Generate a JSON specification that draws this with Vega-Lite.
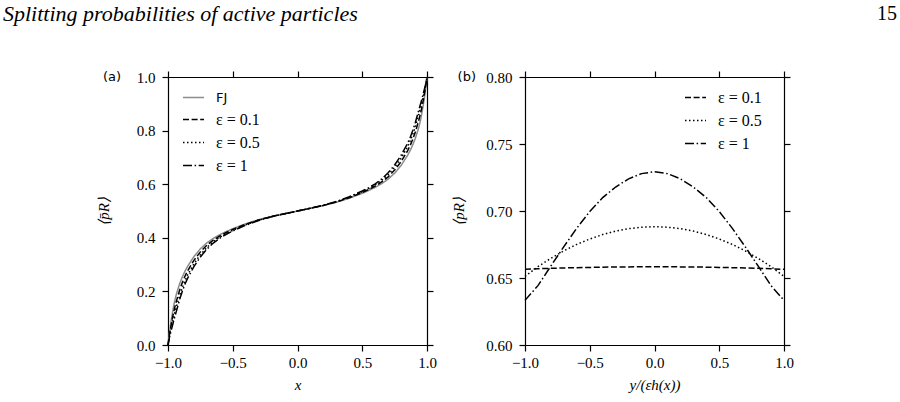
{
  "$schema": "https://vega.github.io/schema/vega-lite/v6.json",
  "background": "white",
  "padding": {"left": 3, "top": 3, "right": 4, "bottom": 4},
  "spacing": 14,
  "resolve": {"scale": {"color": "independent", "strokeDash": "independent"}, "legend": {"color": "independent", "strokeDash": "independent"}},
  "config": {
    "view": {"stroke": null},
    "axis": {
      "domainColor": "black", "tickColor": "black", "domainWidth": 1.2, "tickWidth": 1.2, "tickSize": 6, "labelFlush": false,
      "labelFont": "Liberation Serif", "labelFontSize": 15, "labelColor": "black", "labelPadding": 7,
      "titleFont": "Liberation Serif", "titleFontSize": 15, "titleFontWeight": "normal", "titleFontStyle": "italic", "titleColor": "black",
      "grid": false
    },
    "axisX": {"labelPadding": 4},
    "legend": {
      "title": null, "padding": 0, "symbolType": "stroke", "symbolSize": 441, "symbolStrokeWidth": 1.5,
      "labelFont": "Liberation Serif", "labelFontSize": 16, "labelColor": "black", "labelOffset": 11, "rowPadding": 3
    }
  },
  "datasets": {
    "left": [
      {"s": "FJ", "x": -1, "p": 0}, {"s": "FJ", "x": -0.99, "p": 0.041}, {"s": "FJ", "x": -0.98, "p": 0.077}, {"s": "FJ", "x": -0.97, "p": 0.108}, {"s": "FJ", "x": -0.96, "p": 0.136}, {"s": "FJ", "x": -0.95, "p": 0.1605}, {"s": "FJ", "x": -0.94, "p": 0.181}, {"s": "FJ", "x": -0.93, "p": 0.1986}, {"s": "FJ", "x": -0.91, "p": 0.2286}, {"s": "FJ", "x": -0.89, "p": 0.2533}, {"s": "FJ", "x": -0.87, "p": 0.2743}, {"s": "FJ", "x": -0.85, "p": 0.2925}, {"s": "FJ", "x": -0.8, "p": 0.33}, {"s": "FJ", "x": -0.75, "p": 0.359}, {"s": "FJ", "x": -0.7, "p": 0.381}, {"s": "FJ", "x": -0.65, "p": 0.398}, {"s": "FJ", "x": -0.6, "p": 0.4117}, {"s": "FJ", "x": -0.55, "p": 0.4234}, {"s": "FJ", "x": -0.5, "p": 0.4339}, {"s": "FJ", "x": -0.4, "p": 0.4524}, {"s": "FJ", "x": -0.3, "p": 0.4674}, {"s": "FJ", "x": -0.2, "p": 0.4794}, {"s": "FJ", "x": -0.1, "p": 0.4899}, {"s": "FJ", "x": 0, "p": 0.5},
      {"s": "FJ", "x": 0.1, "p": 0.5101}, {"s": "FJ", "x": 0.2, "p": 0.5206}, {"s": "FJ", "x": 0.3, "p": 0.5326}, {"s": "FJ", "x": 0.4, "p": 0.5476}, {"s": "FJ", "x": 0.5, "p": 0.5661}, {"s": "FJ", "x": 0.55, "p": 0.5766}, {"s": "FJ", "x": 0.6, "p": 0.5883}, {"s": "FJ", "x": 0.65, "p": 0.602}, {"s": "FJ", "x": 0.7, "p": 0.619}, {"s": "FJ", "x": 0.75, "p": 0.641}, {"s": "FJ", "x": 0.8, "p": 0.67}, {"s": "FJ", "x": 0.85, "p": 0.7075}, {"s": "FJ", "x": 0.87, "p": 0.7257}, {"s": "FJ", "x": 0.89, "p": 0.7467}, {"s": "FJ", "x": 0.91, "p": 0.7714}, {"s": "FJ", "x": 0.93, "p": 0.8014}, {"s": "FJ", "x": 0.94, "p": 0.819}, {"s": "FJ", "x": 0.95, "p": 0.8395}, {"s": "FJ", "x": 0.96, "p": 0.864}, {"s": "FJ", "x": 0.97, "p": 0.892}, {"s": "FJ", "x": 0.98, "p": 0.923}, {"s": "FJ", "x": 0.99, "p": 0.959}, {"s": "FJ", "x": 1, "p": 1},

      {"s": "ε = 0.1", "x": -1, "p": 0}, {"s": "ε = 0.1", "x": -0.99, "p": 0.0345}, {"s": "ε = 0.1", "x": -0.98, "p": 0.063}, {"s": "ε = 0.1", "x": -0.97, "p": 0.09}, {"s": "ε = 0.1", "x": -0.96, "p": 0.114}, {"s": "ε = 0.1", "x": -0.95, "p": 0.136}, {"s": "ε = 0.1", "x": -0.94, "p": 0.155}, {"s": "ε = 0.1", "x": -0.93, "p": 0.172}, {"s": "ε = 0.1", "x": -0.91, "p": 0.205}, {"s": "ε = 0.1", "x": -0.89, "p": 0.2325}, {"s": "ε = 0.1", "x": -0.87, "p": 0.2555}, {"s": "ε = 0.1", "x": -0.85, "p": 0.2755}, {"s": "ε = 0.1", "x": -0.8, "p": 0.316}, {"s": "ε = 0.1", "x": -0.75, "p": 0.3475}, {"s": "ε = 0.1", "x": -0.7, "p": 0.3725}, {"s": "ε = 0.1", "x": -0.65, "p": 0.3915}, {"s": "ε = 0.1", "x": -0.6, "p": 0.4068}, {"s": "ε = 0.1", "x": -0.55, "p": 0.4197}, {"s": "ε = 0.1", "x": -0.5, "p": 0.4309}, {"s": "ε = 0.1", "x": -0.4, "p": 0.4505}, {"s": "ε = 0.1", "x": -0.3, "p": 0.4665}, {"s": "ε = 0.1", "x": -0.2, "p": 0.4792}, {"s": "ε = 0.1", "x": -0.1, "p": 0.4898}, {"s": "ε = 0.1", "x": 0, "p": 0.5},
      {"s": "ε = 0.1", "x": 0.1, "p": 0.5102}, {"s": "ε = 0.1", "x": 0.2, "p": 0.5208}, {"s": "ε = 0.1", "x": 0.3, "p": 0.5335}, {"s": "ε = 0.1", "x": 0.4, "p": 0.5495}, {"s": "ε = 0.1", "x": 0.5, "p": 0.5691}, {"s": "ε = 0.1", "x": 0.55, "p": 0.5803}, {"s": "ε = 0.1", "x": 0.6, "p": 0.5932}, {"s": "ε = 0.1", "x": 0.65, "p": 0.6085}, {"s": "ε = 0.1", "x": 0.7, "p": 0.6275}, {"s": "ε = 0.1", "x": 0.75, "p": 0.6525}, {"s": "ε = 0.1", "x": 0.8, "p": 0.684}, {"s": "ε = 0.1", "x": 0.85, "p": 0.7245}, {"s": "ε = 0.1", "x": 0.87, "p": 0.7445}, {"s": "ε = 0.1", "x": 0.89, "p": 0.7675}, {"s": "ε = 0.1", "x": 0.91, "p": 0.795}, {"s": "ε = 0.1", "x": 0.93, "p": 0.828}, {"s": "ε = 0.1", "x": 0.94, "p": 0.845}, {"s": "ε = 0.1", "x": 0.95, "p": 0.864}, {"s": "ε = 0.1", "x": 0.96, "p": 0.886}, {"s": "ε = 0.1", "x": 0.97, "p": 0.91}, {"s": "ε = 0.1", "x": 0.98, "p": 0.937}, {"s": "ε = 0.1", "x": 0.99, "p": 0.9655}, {"s": "ε = 0.1", "x": 1, "p": 1},

      {"s": "ε = 0.5", "x": -1, "p": 0}, {"s": "ε = 0.5", "x": -0.99, "p": 0.0295}, {"s": "ε = 0.5", "x": -0.98, "p": 0.053}, {"s": "ε = 0.5", "x": -0.97, "p": 0.0755}, {"s": "ε = 0.5", "x": -0.96, "p": 0.096}, {"s": "ε = 0.5", "x": -0.95, "p": 0.1155}, {"s": "ε = 0.5", "x": -0.94, "p": 0.134}, {"s": "ε = 0.5", "x": -0.93, "p": 0.151}, {"s": "ε = 0.5", "x": -0.91, "p": 0.185}, {"s": "ε = 0.5", "x": -0.89, "p": 0.214}, {"s": "ε = 0.5", "x": -0.87, "p": 0.2385}, {"s": "ε = 0.5", "x": -0.85, "p": 0.26}, {"s": "ε = 0.5", "x": -0.8, "p": 0.303}, {"s": "ε = 0.5", "x": -0.75, "p": 0.337}, {"s": "ε = 0.5", "x": -0.7, "p": 0.3643}, {"s": "ε = 0.5", "x": -0.65, "p": 0.3855}, {"s": "ε = 0.5", "x": -0.6, "p": 0.4023}, {"s": "ε = 0.5", "x": -0.55, "p": 0.4162}, {"s": "ε = 0.5", "x": -0.5, "p": 0.4279}, {"s": "ε = 0.5", "x": -0.4, "p": 0.4486}, {"s": "ε = 0.5", "x": -0.3, "p": 0.4656}, {"s": "ε = 0.5", "x": -0.2, "p": 0.479}, {"s": "ε = 0.5", "x": -0.1, "p": 0.4897}, {"s": "ε = 0.5", "x": 0, "p": 0.5},
      {"s": "ε = 0.5", "x": 0.1, "p": 0.5103}, {"s": "ε = 0.5", "x": 0.2, "p": 0.521}, {"s": "ε = 0.5", "x": 0.3, "p": 0.5344}, {"s": "ε = 0.5", "x": 0.4, "p": 0.5514}, {"s": "ε = 0.5", "x": 0.5, "p": 0.5721}, {"s": "ε = 0.5", "x": 0.55, "p": 0.5838}, {"s": "ε = 0.5", "x": 0.6, "p": 0.5977}, {"s": "ε = 0.5", "x": 0.65, "p": 0.6145}, {"s": "ε = 0.5", "x": 0.7, "p": 0.6357}, {"s": "ε = 0.5", "x": 0.75, "p": 0.663}, {"s": "ε = 0.5", "x": 0.8, "p": 0.697}, {"s": "ε = 0.5", "x": 0.85, "p": 0.74}, {"s": "ε = 0.5", "x": 0.87, "p": 0.7615}, {"s": "ε = 0.5", "x": 0.89, "p": 0.786}, {"s": "ε = 0.5", "x": 0.91, "p": 0.815}, {"s": "ε = 0.5", "x": 0.93, "p": 0.849}, {"s": "ε = 0.5", "x": 0.94, "p": 0.866}, {"s": "ε = 0.5", "x": 0.95, "p": 0.8845}, {"s": "ε = 0.5", "x": 0.96, "p": 0.904}, {"s": "ε = 0.5", "x": 0.97, "p": 0.9245}, {"s": "ε = 0.5", "x": 0.98, "p": 0.947}, {"s": "ε = 0.5", "x": 0.99, "p": 0.9705}, {"s": "ε = 0.5", "x": 1, "p": 1},

      {"s": "ε = 1", "x": -1, "p": 0}, {"s": "ε = 1", "x": -0.99, "p": 0.0255}, {"s": "ε = 1", "x": -0.98, "p": 0.045}, {"s": "ε = 1", "x": -0.97, "p": 0.0645}, {"s": "ε = 1", "x": -0.96, "p": 0.083}, {"s": "ε = 1", "x": -0.95, "p": 0.1005}, {"s": "ε = 1", "x": -0.94, "p": 0.118}, {"s": "ε = 1", "x": -0.93, "p": 0.135}, {"s": "ε = 1", "x": -0.91, "p": 0.17}, {"s": "ε = 1", "x": -0.89, "p": 0.2}, {"s": "ε = 1", "x": -0.87, "p": 0.2255}, {"s": "ε = 1", "x": -0.85, "p": 0.2475}, {"s": "ε = 1", "x": -0.8, "p": 0.2925}, {"s": "ε = 1", "x": -0.75, "p": 0.3285}, {"s": "ε = 1", "x": -0.7, "p": 0.3575}, {"s": "ε = 1", "x": -0.65, "p": 0.3805}, {"s": "ε = 1", "x": -0.6, "p": 0.3985}, {"s": "ε = 1", "x": -0.55, "p": 0.4132}, {"s": "ε = 1", "x": -0.5, "p": 0.4255}, {"s": "ε = 1", "x": -0.4, "p": 0.447}, {"s": "ε = 1", "x": -0.3, "p": 0.4648}, {"s": "ε = 1", "x": -0.2, "p": 0.4787}, {"s": "ε = 1", "x": -0.1, "p": 0.4897}, {"s": "ε = 1", "x": 0, "p": 0.5},
      {"s": "ε = 1", "x": 0.1, "p": 0.5103}, {"s": "ε = 1", "x": 0.2, "p": 0.5213}, {"s": "ε = 1", "x": 0.3, "p": 0.5352}, {"s": "ε = 1", "x": 0.4, "p": 0.553}, {"s": "ε = 1", "x": 0.5, "p": 0.5745}, {"s": "ε = 1", "x": 0.55, "p": 0.5868}, {"s": "ε = 1", "x": 0.6, "p": 0.6015}, {"s": "ε = 1", "x": 0.65, "p": 0.6195}, {"s": "ε = 1", "x": 0.7, "p": 0.6425}, {"s": "ε = 1", "x": 0.75, "p": 0.6715}, {"s": "ε = 1", "x": 0.8, "p": 0.7075}, {"s": "ε = 1", "x": 0.85, "p": 0.7525}, {"s": "ε = 1", "x": 0.87, "p": 0.7745}, {"s": "ε = 1", "x": 0.89, "p": 0.8}, {"s": "ε = 1", "x": 0.91, "p": 0.83}, {"s": "ε = 1", "x": 0.93, "p": 0.865}, {"s": "ε = 1", "x": 0.94, "p": 0.882}, {"s": "ε = 1", "x": 0.95, "p": 0.8995}, {"s": "ε = 1", "x": 0.96, "p": 0.917}, {"s": "ε = 1", "x": 0.97, "p": 0.9355}, {"s": "ε = 1", "x": 0.98, "p": 0.955}, {"s": "ε = 1", "x": 0.99, "p": 0.9745}, {"s": "ε = 1", "x": 1, "p": 1}
    ],
    "right": [
      {"s": "ε = 0.1", "u": -1, "p": 0.6565}, {"s": "ε = 0.1", "u": -0.9, "p": 0.6569}, {"s": "ε = 0.1", "u": -0.8, "p": 0.6572}, {"s": "ε = 0.1", "u": -0.7, "p": 0.6575}, {"s": "ε = 0.1", "u": -0.6, "p": 0.6577}, {"s": "ε = 0.1", "u": -0.5, "p": 0.6579}, {"s": "ε = 0.1", "u": -0.4, "p": 0.6581}, {"s": "ε = 0.1", "u": -0.3, "p": 0.6582}, {"s": "ε = 0.1", "u": -0.2, "p": 0.6583}, {"s": "ε = 0.1", "u": -0.1, "p": 0.6584}, {"s": "ε = 0.1", "u": 0, "p": 0.6584},
      {"s": "ε = 0.1", "u": 0.1, "p": 0.6584}, {"s": "ε = 0.1", "u": 0.2, "p": 0.6583}, {"s": "ε = 0.1", "u": 0.3, "p": 0.6582}, {"s": "ε = 0.1", "u": 0.4, "p": 0.6581}, {"s": "ε = 0.1", "u": 0.5, "p": 0.6579}, {"s": "ε = 0.1", "u": 0.6, "p": 0.6577}, {"s": "ε = 0.1", "u": 0.7, "p": 0.6575}, {"s": "ε = 0.1", "u": 0.8, "p": 0.6572}, {"s": "ε = 0.1", "u": 0.9, "p": 0.6569}, {"s": "ε = 0.1", "u": 1, "p": 0.6565},
      {"s": "ε = 0.5", "u": -1, "p": 0.6512}, {"s": "ε = 0.5", "u": -0.9, "p": 0.6585}, {"s": "ε = 0.5", "u": -0.8, "p": 0.6647}, {"s": "ε = 0.5", "u": -0.7, "p": 0.6703}, {"s": "ε = 0.5", "u": -0.6, "p": 0.6751}, {"s": "ε = 0.5", "u": -0.5, "p": 0.6791}, {"s": "ε = 0.5", "u": -0.4, "p": 0.6824}, {"s": "ε = 0.5", "u": -0.3, "p": 0.685}, {"s": "ε = 0.5", "u": -0.2, "p": 0.6868}, {"s": "ε = 0.5", "u": -0.1, "p": 0.6879}, {"s": "ε = 0.5", "u": 0, "p": 0.6883},
      {"s": "ε = 0.5", "u": 0.1, "p": 0.6879}, {"s": "ε = 0.5", "u": 0.2, "p": 0.6868}, {"s": "ε = 0.5", "u": 0.3, "p": 0.685}, {"s": "ε = 0.5", "u": 0.4, "p": 0.6824}, {"s": "ε = 0.5", "u": 0.5, "p": 0.6791}, {"s": "ε = 0.5", "u": 0.6, "p": 0.6751}, {"s": "ε = 0.5", "u": 0.7, "p": 0.6703}, {"s": "ε = 0.5", "u": 0.8, "p": 0.6647}, {"s": "ε = 0.5", "u": 0.9, "p": 0.6585}, {"s": "ε = 0.5", "u": 1, "p": 0.6512},
      {"s": "ε = 1", "u": -1, "p": 0.6333}, {"s": "ε = 1", "u": -0.9, "p": 0.6443}, {"s": "ε = 1", "u": -0.8, "p": 0.659}, {"s": "ε = 1", "u": -0.7, "p": 0.6734}, {"s": "ε = 1", "u": -0.6, "p": 0.6872}, {"s": "ε = 1", "u": -0.5, "p": 0.6996}, {"s": "ε = 1", "u": -0.4, "p": 0.71}, {"s": "ε = 1", "u": -0.3, "p": 0.7179}, {"s": "ε = 1", "u": -0.2, "p": 0.724}, {"s": "ε = 1", "u": -0.1, "p": 0.7279}, {"s": "ε = 1", "u": 0, "p": 0.7293},
      {"s": "ε = 1", "u": 0.1, "p": 0.7279}, {"s": "ε = 1", "u": 0.2, "p": 0.724}, {"s": "ε = 1", "u": 0.3, "p": 0.7179}, {"s": "ε = 1", "u": 0.4, "p": 0.71}, {"s": "ε = 1", "u": 0.5, "p": 0.6996}, {"s": "ε = 1", "u": 0.6, "p": 0.6872}, {"s": "ε = 1", "u": 0.7, "p": 0.6734}, {"s": "ε = 1", "u": 0.8, "p": 0.659}, {"s": "ε = 1", "u": 0.9, "p": 0.6443}, {"s": "ε = 1", "u": 1, "p": 0.6333}
    ],
    "tagA": [{"t": "(a)", "x": -1, "y": 1}],
    "tagB": [{"t": "(b)", "x": -1, "y": 0.8}]
  },
  "hconcat": [
    {
      "width": 259, "height": 268,
      "title": {"text": "Splitting probabilities of active particles", "anchor": "start", "frame": "group", "dx": -165, "offset": 44, "font": "Liberation Serif", "fontStyle": "italic", "fontSize": 22, "fontWeight": "normal", "color": "black"},
      "resolve": {"axis": {"x": "independent", "y": "independent"}},
      "layer": [
        {
          "data": {"name": "left"},
          "mark": {"type": "line", "strokeWidth": 1.5, "clip": false},
          "encoding": {
            "x": {"field": "x", "type": "quantitative", "scale": {"domain": [-1, 1], "nice": false}, "axis": {"orient": "bottom", "values": [-1, -0.5, 0, 0.5, 1], "format": ".1f", "title": "x", "titlePadding": 7}},
            "y": {"field": "p", "type": "quantitative", "scale": {"domain": [0, 1], "nice": false}, "axis": {"orient": "left", "values": [0, 0.2, 0.4, 0.6, 0.8, 1], "format": ".1f", "title": "⟨p̄R⟩", "titlePadding": 25}},
            "color": {"field": "s", "type": "nominal", "scale": {"domain": ["FJ", "ε = 0.1", "ε = 0.5", "ε = 1"], "range": ["#8c8c8c", "black", "black", "black"]}, "legend": {"orient": "none", "legendX": 14, "legendY": 9, "encode": {"labels": {"update": {"font": {"signal": "datum.value === 'FJ' ? 'DejaVu Sans' : 'Liberation Serif'"}, "fontSize": {"signal": "datum.value === 'FJ' ? 13 : 16"}}}}}},
            "strokeDash": {"field": "s", "type": "nominal", "scale": {"domain": ["FJ", "ε = 0.1", "ε = 0.5", "ε = 1"], "range": [[1, 0], [6, 2.6], [1.5, 2.5], [9, 2.6, 1.5, 2.6]]}, "legend": {"orient": "none", "legendX": 14, "legendY": 9, "encode": {"labels": {"update": {"font": {"signal": "datum.value === 'FJ' ? 'DejaVu Sans' : 'Liberation Serif'"}, "fontSize": {"signal": "datum.value === 'FJ' ? 13 : 16"}}}}}}
          }
        },
        {
          "data": {"name": "tagA"},
          "mark": {"type": "text", "align": "right", "baseline": "middle", "dx": -47, "font": "DejaVu Sans", "fontSize": 13, "color": "black"},
          "encoding": {
            "x": {"field": "x", "type": "quantitative", "axis": {"orient": "top", "values": [-1, -0.5, 0, 0.5, 1], "labels": false, "title": null}},
            "y": {"field": "y", "type": "quantitative", "axis": {"orient": "right", "values": [0, 0.2, 0.4, 0.6, 0.8, 1], "labels": false, "title": null}},
            "text": {"field": "t"}
          }
        }
      ]
    },
    {
      "width": 259, "height": 268,
      "title": {"text": "15", "anchor": "end", "frame": "group", "dx": 113, "offset": 46, "font": "Liberation Serif", "fontStyle": "normal", "fontSize": 20, "fontWeight": "normal", "color": "black"},
      "resolve": {"axis": {"x": "independent", "y": "independent"}},
      "layer": [
        {
          "data": {"name": "right"},
          "mark": {"type": "line", "strokeWidth": 1.5, "clip": false},
          "encoding": {
            "x": {"field": "u", "type": "quantitative", "scale": {"domain": [-1, 1], "nice": false}, "axis": {"orient": "bottom", "values": [-1, -0.5, 0, 0.5, 1], "format": ".1f", "title": "y/(εh(x))", "titlePadding": 7}},
            "y": {"field": "p", "type": "quantitative", "scale": {"domain": [0.6, 0.8], "nice": false}, "axis": {"orient": "left", "values": [0.6, 0.65, 0.7, 0.75, 0.8], "format": ".2f", "title": "⟨pR⟩", "titlePadding": 19}},
            "color": {"field": "s", "type": "nominal", "scale": {"domain": ["ε = 0.1", "ε = 0.5", "ε = 1"], "range": ["black", "black", "black"]}, "legend": {"orient": "none", "legendX": 159, "legendY": 9}},
            "strokeDash": {"field": "s", "type": "nominal", "scale": {"domain": ["ε = 0.1", "ε = 0.5", "ε = 1"], "range": [[6, 2.6], [1.5, 2.5], [9, 2.6, 1.5, 2.6]]}, "legend": {"orient": "none", "legendX": 159, "legendY": 9}}
          }
        },
        {
          "data": {"name": "tagB"},
          "mark": {"type": "text", "align": "right", "baseline": "middle", "dx": -49, "font": "DejaVu Sans", "fontSize": 13, "color": "black"},
          "encoding": {
            "x": {"field": "x", "type": "quantitative", "axis": {"orient": "top", "values": [-1, -0.5, 0, 0.5, 1], "labels": false, "title": null}},
            "y": {"field": "y", "type": "quantitative", "axis": {"orient": "right", "values": [0.6, 0.65, 0.7, 0.75, 0.8], "labels": false, "title": null}},
            "text": {"field": "t"}
          }
        }
      ]
    }
  ]
}
